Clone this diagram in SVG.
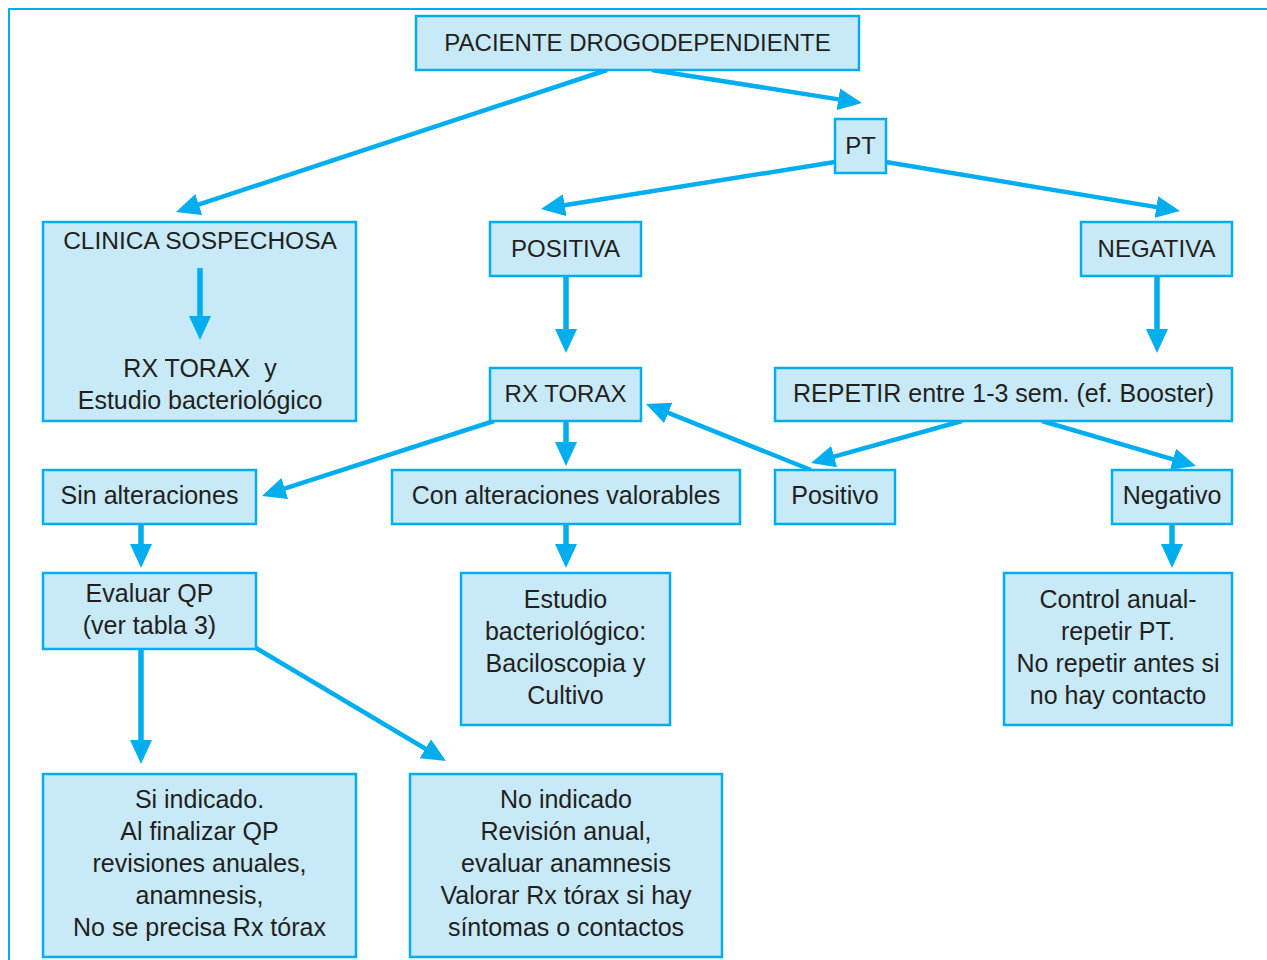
<svg xmlns="http://www.w3.org/2000/svg" width="1267" height="960" viewBox="0 0 1267 960">
<defs>
<marker id="ah" markerUnits="userSpaceOnUse" markerWidth="24" markerHeight="22" refX="2" refY="11" orient="auto">
<path d="M0,0 L24,11 L0,22 z" fill="#00AEEF"/>
</marker>
<style>
.box{fill:#C7E9F8;stroke:#00AEEF;stroke-width:2.5}
.t{font-family:"Liberation Sans",Arial,sans-serif;font-size:24px;fill:#231F20;text-anchor:middle}
.m{font-size:25px}
.c{fill:none;stroke:#00AEEF;stroke-width:4.5;marker-end:url(#ah)}
.v{stroke-width:5.5}
</style>
</defs>
<rect width="1267" height="960" fill="#fff"/>
<rect x="9" y="9" width="1300" height="1000" fill="none" stroke="#00AEEF" stroke-width="2"/>
<g id="connectors">
<path class="c" d="M607,70 L196.9,205.1"/>
<path class="c" d="M652,70 L840.3,99.6"/>
<path class="c" d="M835,162 L562.7,205.5"/>
<path class="c" d="M886,162 L1158.3,207.4"/>
<path class="c v" d="M566,276 L566,331"/>
<path class="c v" d="M1157,276 L1157,331"/>
<path class="c" d="M494,421 L282.9,489.2"/>
<path class="c v" d="M566,421 L566,444"/>
<path class="c" d="M811,470 L666.4,412.2"/>
<path class="c" d="M962,421 L832.2,457.1"/>
<path class="c" d="M1042,421 L1174.9,459.8"/>
<path class="c v" d="M141,524 L141,546"/>
<path class="c v" d="M566,524 L566,546"/>
<path class="c v" d="M1172,524 L1172,546"/>
<path class="c v" d="M141,649 L141,742"/>
<path class="c" d="M256,648 L427.1,749.8"/>
</g>
<g id="paciente"><rect class="box" x="416" y="16" width="443" height="54"/><text class="t" x="637.5" y="51">PACIENTE DROGODEPENDIENTE</text></g>
<g id="pt"><rect class="box" x="835" y="119" width="51" height="54"/><text class="t" x="860.5" y="154">PT</text></g>
<g id="clinica"><rect class="box" x="43" y="222" width="313" height="199"/><text class="t" x="200" y="249" style="font-size:24.5px">CLINICA SOSPECHOSA</text>
<path class="c v" d="M200,268 L200,318"/>
<text class="t m" x="200" y="377" xml:space="preserve">RX TORAX  y</text><text class="t m" x="200" y="409">Estudio bacteriológico</text></g>
<g id="positiva"><rect class="box" x="490" y="222" width="151" height="54"/><text class="t" x="565.5" y="257">POSITIVA</text></g>
<g id="negativa"><rect class="box" x="1081" y="222" width="151" height="54"/><text class="t" x="1156.5" y="257">NEGATIVA</text></g>
<g id="rxtorax"><rect class="box" x="490" y="368" width="151" height="53"/><text class="t" x="565.5" y="402">RX TORAX</text></g>
<g id="repetir"><rect class="box" x="775" y="368" width="457" height="53"/><text class="t m" x="1003.5" y="402">REPETIR entre 1-3 sem. (ef. Booster)</text></g>
<g id="sin"><rect class="box" x="43" y="470" width="213" height="54"/><text class="t m" x="149.5" y="504">Sin alteraciones</text></g>
<g id="con"><rect class="box" x="392" y="470" width="348" height="54"/><text class="t m" x="566" y="504">Con alteraciones valorables</text></g>
<g id="positivo"><rect class="box" x="775" y="470" width="120" height="54"/><text class="t m" x="835" y="504">Positivo</text></g>
<g id="negativo"><rect class="box" x="1112" y="470" width="120" height="54"/><text class="t m" x="1172" y="504">Negativo</text></g>
<g id="evaluar"><rect class="box" x="43" y="573" width="213" height="76"/><text class="t m" x="149.5" y="602">Evaluar QP</text><text class="t m" x="149.5" y="634">(ver tabla 3)</text></g>
<g id="estudio"><rect class="box" x="461" y="573" width="209" height="152"/><text class="t m" x="565.5" y="608">Estudio</text><text class="t m" x="565.5" y="640">bacteriológico:</text><text class="t m" x="565.5" y="672">Baciloscopia y</text><text class="t m" x="565.5" y="704">Cultivo</text></g>
<g id="control"><rect class="box" x="1004" y="573" width="228" height="152"/><text class="t m" x="1118" y="608">Control anual-</text><text class="t m" x="1118" y="640">repetir PT.</text><text class="t m" x="1118" y="672">No repetir antes si</text><text class="t m" x="1118" y="704">no hay contacto</text></g>
<g id="si"><rect class="box" x="43" y="774" width="313" height="183"/><text class="t m" x="199.5" y="808">Si indicado.</text><text class="t m" x="199.5" y="840">Al finalizar QP</text><text class="t m" x="199.5" y="872">revisiones anuales,</text><text class="t m" x="199.5" y="904">anamnesis,</text><text class="t m" x="199.5" y="936">No se precisa Rx tórax</text></g>
<g id="no"><rect class="box" x="410" y="774" width="312" height="183"/><text class="t m" x="566" y="808">No indicado</text><text class="t m" x="566" y="840">Revisión anual,</text><text class="t m" x="566" y="872">evaluar anamnesis</text><text class="t m" x="566" y="904">Valorar Rx tórax si hay</text><text class="t m" x="566" y="936">síntomas o contactos</text></g>
</svg>
